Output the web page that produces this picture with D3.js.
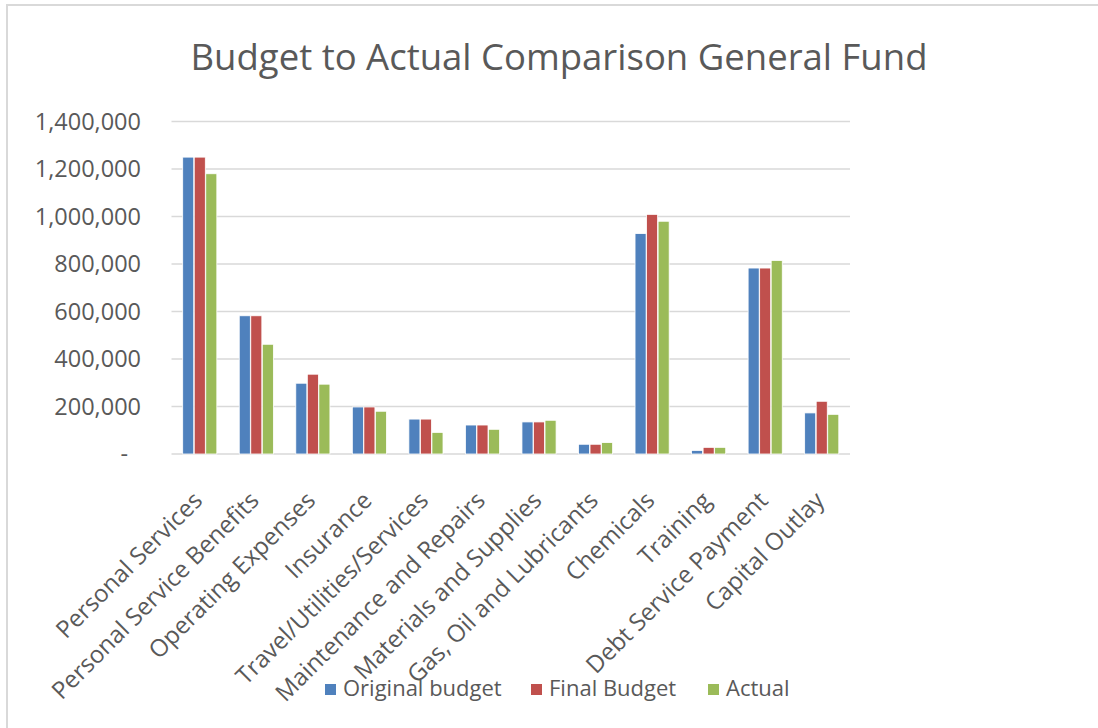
<!DOCTYPE html>
<html>
<head>
<meta charset="utf-8">
<script src="https://cdn.jsdelivr.net/npm/d3@7"></script>
<style>
  body { margin: 0; background: #fff; }
  svg text { font-family: "Open Sans", "Noto Sans", sans-serif; fill: #595959; }
</style>
</head>
<body>
<svg id="chart" width="1098" height="728"></svg>
<script>
// data
var categories = ["Personal Services", "Personal Service Benefits", "Operating Expenses",
  "Insurance", "Travel/Utilities/Services", "Maintenance and Repairs",
  "Materials and Supplies", "Gas, Oil and Lubricants", "Chemicals", "Training",
  "Debt Service Payment", "Capital Outlay"];

var seriesNames = ["Original budget", "Final Budget", "Actual"];
var seriesColors = ["#4f81bd", "#c0504d", "#9bbb59"];

var originalBudget = [1250000, 582000, 298000, 198000, 147000, 122000, 135000, 41000, 928000, 15000, 783000, 173000];
var finalBudget    = [1250000, 582000, 336000, 198000, 147000, 122000, 135000, 41000, 1009000, 28000, 783000, 222000];
var actual         = [1180000, 462000, 294000, 180000, 91000, 104000, 142000, 48000, 980000, 28000, 815000, 167000];

var yTicks = [0, 200000, 400000, 600000, 800000, 1000000, 1200000, 1400000];

var seriesValues = [originalBudget, finalBudget, actual];

var svg = d3.select("#chart");

// outer frame like the office chart area
svg.append("rect")
  .attr("x", 7).attr("y", 5)
  .attr("width", 1098).attr("height", 740)
  .attr("fill", "#fff")
  .attr("stroke", "#d9d9d9")
  .attr("stroke-width", 2);

svg.append("text")
  .attr("x", 559).attr("y", 70)
  .attr("text-anchor", "middle")
  .style("font-size", "36.5px")
  .text("Budget to Actual Comparison General Fund");

var y = d3.scaleLinear().domain([0, 1400000]).range([454, 121.5]);

var x0 = d3.scaleBand()
  .domain(categories)
  .range([171.5, 850])
  .paddingInner(0.38)
  .paddingOuter(0.19);

var x1 = d3.scaleBand()
  .domain(seriesNames)
  .range([0, x0.bandwidth()])
  .padding(0.04);

// gridlines
svg.append("g")
  .selectAll("line")
  .data(yTicks)
  .join("line")
  .attr("x1", 171.5).attr("x2", 850)
  .attr("y1", function(d){ return y(d); })
  .attr("y2", function(d){ return y(d); })
  .attr("stroke", "#d9d9d9")
  .attr("stroke-width", 1.5);

// y axis labels
var fmt = d3.format(",");
svg.append("g")
  .selectAll("text")
  .data(yTicks)
  .join("text")
  .attr("x", function(d){ return d === 0 ? 128 : 141; })
  .attr("y", function(d){ return y(d); })
  .attr("dy", "0.35em")
  .attr("text-anchor", "end")
  .style("font-size", "23.5px")
  .text(function(d){ return d === 0 ? "-" : fmt(d); });

// bars
var groups = svg.append("g")
  .selectAll("g")
  .data(categories)
  .join("g")
  .attr("transform", function(d){ return "translate(" + x0(d) + ",0)"; });

groups.selectAll("rect")
  .data(function(d, i){
    return seriesNames.map(function(s, j){ return {series: s, value: seriesValues[j][i], color: seriesColors[j]}; });
  })
  .join("rect")
  .attr("x", function(d){ return x1(d.series); })
  .attr("width", x1.bandwidth())
  .attr("y", function(d){ return y(d.value); })
  .attr("height", function(d){ return y(0) - y(d.value); })
  .attr("fill", function(d){ return d.color; })
  .attr("stroke", "#fff")
  .attr("stroke-width", 0.8);

// category labels, rotated
svg.append("g")
  .selectAll("text")
  .data(categories)
  .join("text")
  .attr("transform", function(d){
    var cx = x0(d) + x0.bandwidth() / 2 + 4;
    return "translate(" + cx + ",502) rotate(-45)";
  })
  .attr("text-anchor", "end")
  .style("font-size", "24px")
  .text(function(d){ return d; });

// legend
var legendX = [325, 531, 708];
var legend = svg.append("g")
  .selectAll("g")
  .data(seriesNames)
  .join("g")
  .attr("transform", function(d, i){ return "translate(" + legendX[i] + ",684)"; });

legend.append("rect")
  .attr("width", 11).attr("height", 11)
  .attr("fill", function(d, i){ return seriesColors[i]; });

legend.append("text")
  .attr("x", 18).attr("y", 12)
  .style("font-size", "22px")
  .text(function(d){ return d; });
</script>
</body>
</html>
